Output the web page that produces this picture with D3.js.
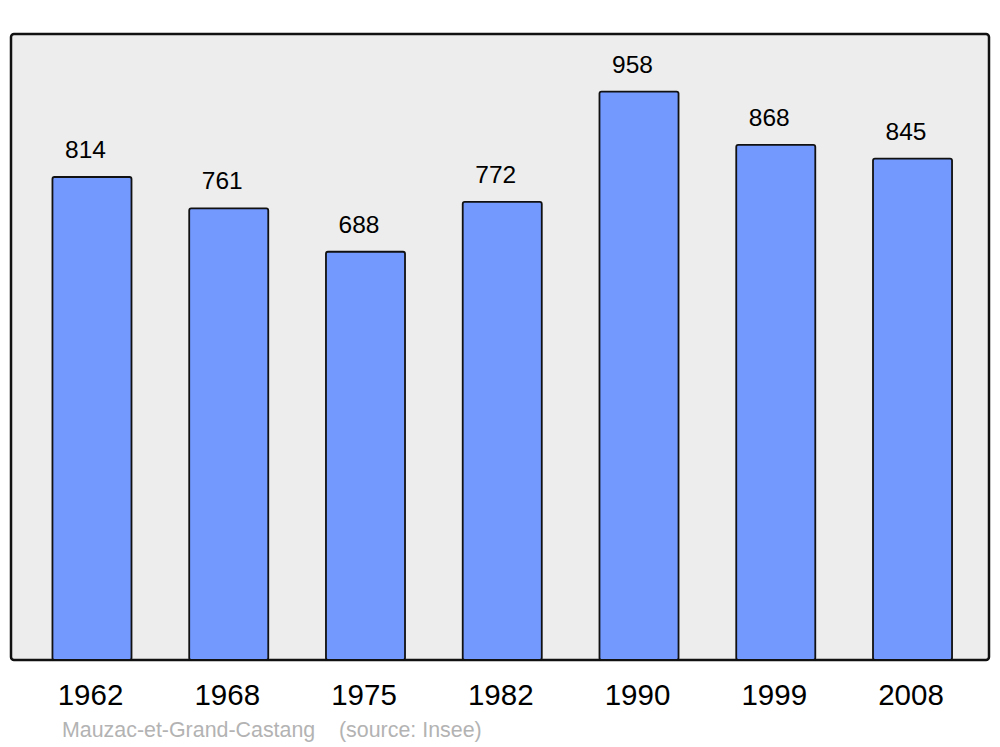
<!DOCTYPE html>
<html><head><meta charset="utf-8">
<script src="https://cdn.jsdelivr.net/npm/d3@7"></script>
<style>body{margin:0;background:#fff}svg{display:block}</style>
</head><body>
<svg id="c" width="1000" height="747"></svg>
<script>
const years = ["1962","1968","1975","1982","1990","1999","2008"];
const population = [814, 761, 688, 772, 958, 868, 845];
const sourceText = ["Mauzac-et-Grand-Castang", "(source: Insee)"];

const svg = d3.select("#c");
const font = "'Liberation Sans', Arial, sans-serif";
const plot = {x0: 11, x1: 989, y0: 34, y1: 660};

svg.append("rect")
  .attr("x", plot.x0).attr("y", plot.y0)
  .attr("width", plot.x1 - plot.x0).attr("height", plot.y1 - plot.y0)
  .attr("rx", 3).attr("fill", "#ededed").attr("stroke", "#111").attr("stroke-width", 2.5);

const x = d3.scaleBand().domain(years).range([23.6, 980.9]).paddingInner(0.422).paddingOuter(0.211);
const y = d3.scaleLinear().domain([0, 1055]).range([plot.y1, plot.y0]);

svg.selectAll("rect.bar").data(years).join("rect")
  .attr("class", "bar")
  .attr("x", d => x(d)).attr("width", x.bandwidth())
  .attr("y", (d, i) => y(population[i]))
  .attr("height", (d, i) => y(0) - y(population[i]))
  .attr("rx", 2)
  .attr("fill", "#7399ff").attr("stroke", "#111").attr("stroke-width", 1.8);

svg.selectAll("text.val").data(years).join("text")
  .attr("class", "val")
  .attr("x", d => x(d) + x.bandwidth() / 2 - 6.5)
  .attr("y", (d, i) => y(population[i]) - 19)
  .attr("text-anchor", "middle")
  .attr("font-family", font).attr("font-size", 24.5).attr("fill", "#000")
  .text((d, i) => population[i]);

const xAxis = d3.axisBottom(x).tickSize(0).tickPadding(0);
const gx = svg.append("g").attr("transform", `translate(-1.5, ${plot.y1})`).call(xAxis);
gx.select(".domain").remove();
gx.selectAll("text")
  .attr("dy", null).attr("y", 45)
  .attr("font-family", font).attr("font-size", 29.5).attr("fill", "#000");

const src = svg.append("text").attr("y", 737).attr("font-family", font).attr("font-size", 21.4).attr("fill", "#b3b3b3");
src.append("tspan").attr("x", 62).text(sourceText[0]);
src.append("tspan").attr("x", 339).text(sourceText[1]);
</script>
</body></html>
